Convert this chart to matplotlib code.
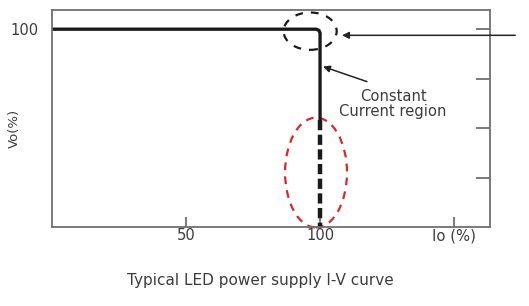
import matplotlib
matplotlib.use('Agg')
import matplotlib.pyplot as plt
from matplotlib.patches import Ellipse

plt.rcParams['font.family'] = ['DejaVu Sans']

# I-V curve (Io %, Vo %)
io_solid = [0, 98.5, 99.6, 100, 100]
vo_solid = [100, 100, 99.4, 98, 54]
io_dash = [100, 100]
vo_dash = [54, 0]

xticks = [50, 100, 150]
xticklabels = ['50', '100', 'Io (%)']
right_ticks = [25, 50, 75, 100]

text_col = '#3c3c3c'
spine_col = '#707070'

fig = plt.figure(figsize=(5.29, 3.06), dpi=100)
ax = fig.add_axes([52/529, 1 - 227/306, 438/529, 217/306])

ax.set_xlim(0, 163.4)
ax.set_ylim(0, 109.7)

# curve
ax.plot(io_solid, vo_solid, color='#1a1a1a', lw=2.4, solid_joinstyle='round')
ax.plot(io_dash, vo_dash, color='#1a1a1a', lw=3.2, dashes=(2.3, 1.0))

# circled knee and region
ax.add_patch(Ellipse((96.3, 99), 19.8, 18.9, fill=False, color='#1a1a1a',
                     lw=1.6, linestyle=(0, (3.5, 3.6))))
ax.add_patch(Ellipse((98.5, 27.5), 23.1, 55.5, fill=False, color='#d42a2a',
                     lw=1.6, linestyle=(0, (3.5, 2.8)), clip_on=False))

# arrows
ax.annotate('', xy=(108.2, 96.9), xytext=(172.8, 96.9), annotation_clip=False,
            arrowprops=dict(arrowstyle='-|>', lw=1.1, color='#222222',
                            mutation_scale=10, shrinkA=0, shrinkB=0))
ax.annotate('', xy=(101.1, 81.1), xytext=(117.5, 73.5),
            arrowprops=dict(arrowstyle='-|>', lw=1.1, color='#222222',
                            mutation_scale=10, shrinkA=0, shrinkB=0))
ax.text(127.2, 62.0, 'Constant\nCurrent region', ha='center', va='center',
        fontsize=10.6, color=text_col, linespacing=1.0)

# axes styling
for s in ax.spines.values():
    s.set_color(spine_col)
    s.set_linewidth(1.3)

ax.set_xticks(xticks)
ax.set_xticklabels(xticklabels)
ax.tick_params(axis='x', direction='in', length=7, width=1.3, color=spine_col,
               labelsize=10.6, labelcolor=text_col, pad=1)
ax.set_yticks([100])
ax.tick_params(axis='y', length=0, labelsize=10.6, labelcolor=text_col, pad=10)
ax.set_ylabel('Vo(%)', fontsize=9.5, color=text_col)
ax.yaxis.set_label_coords(-0.072, 0.456)

ax2 = ax.twinx()
ax2.set_ylim(ax.get_ylim())
ax2.set_yticks(right_ticks)
ax2.set_yticklabels([])
ax2.tick_params(axis='y', direction='in', length=10, width=1.3, color=spine_col)
for s in ax2.spines.values():
    s.set_visible(False)

fig.text(260/529, 1 - 280/306, 'Typical LED power supply I-V curve',
         ha='center', va='center', fontsize=11, color=text_col)

fig.savefig('out.png', dpi=100, facecolor='white')
